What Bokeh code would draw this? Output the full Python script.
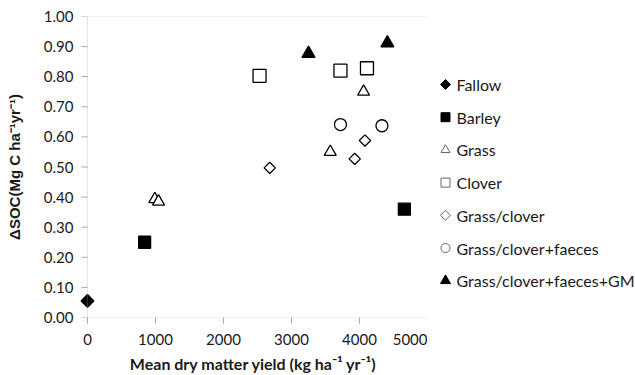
import math
from bokeh.plotting import figure
from bokeh.layouts import row
from bokeh.models import Range1d, FixedTicker, NumeralTickFormatter, BoxAnnotation
from bokeh.core.properties import value
from bokeh.embed import file_html
from bokeh.resources import INLINE

# ---- data ----
series_names = ["Fallow", "Barley", "Grass", "Clover", "Grass/clover",
                "Grass/clover+faeces", "Grass/clover+faeces+GM"]
fallow_x = [0]
fallow_y = [0.055]
barley_x = [840, 4660]
barley_y = [0.25, 0.36]
grass_x = [990, 1045, 3570, 4060]
grass_y = [0.393, 0.385, 0.55, 0.75]
clover_x = [2530, 3720, 4110]
clover_y = [0.803, 0.82, 0.828]
gc_x = [2680, 3930, 4080]
gc_y = [0.497, 0.527, 0.588]
gcf_x = [3720, 4330]
gcf_y = [0.641, 0.637]
gcfgm_x = [3250, 4410]
gcfgm_y = [0.877, 0.912]
x_ticks = [0, 1000, 2000, 3000, 4000, 5000]
y_ticks = [0.0, 0.1, 0.2, 0.3, 0.4, 0.5, 0.6, 0.7, 0.8, 0.9, 1.0]
x_min, x_max = 0, 5000
y_min, y_max = 0.0, 1.0

series_x = [fallow_x, barley_x, grass_x, clover_x, gc_x, gcf_x, gcfgm_x]
series_y = [fallow_y, barley_y, grass_y, clover_y, gc_y, gcf_y, gcfgm_y]
# style per series: marker, angle, filled, size, legend size
D45 = math.pi / 4
styles = [
    ("square", D45, True, 9, 7),
    ("square", 0, True, 12, 9),
    ("triangle", 0, False, 12, 9),
    ("square", 0, False, 13, 9),
    ("square", D45, False, 8, 7),
    ("circle", 0, False, 12, 9),
    ("triangle", 0, True, 13, 10),
]

AX = "#a6a6a6"
TXT = "#1a1a1a"
TICK_FONT = "Lato"

# a few pixels of room left of x=0 so the marker at x=0 is not clipped
PAD_PX = 8
FRAME_W = 340
px = (x_max - x_min) / FRAME_W          # data units per pixel (x)
x_pad = PAD_PX * px
TICK_OUT = 6

p = figure(width=427, height=375, output_backend="svg", toolbar_location=None,
           x_range=Range1d(x_min - x_pad, x_max), y_range=Range1d(y_min, y_max),
           min_border_left=87 - PAD_PX, min_border_right=0, min_border_top=16,
           min_border_bottom=58)
p.outline_line_color = None
p.grid.visible = False
p.background_fill_color = "white"
p.border_fill_color = "white"

# plot-area box from 0..5000 x 0..1 (its left edge is the y axis line)
p.add_layout(BoxAnnotation(left=x_min, right=x_max, bottom=y_min, top=y_max,
                           fill_alpha=0, line_color=AX, line_width=1))
# y tick marks, drawn just left of x=0
p.segment(x0=[x_min - TICK_OUT * px] * len(y_ticks), y0=y_ticks,
          x1=[x_min] * len(y_ticks), y1=y_ticks, line_color=AX, line_width=1)

for (xs, ys, (marker, ang, filled, size, _)) in zip(series_x, series_y, styles):
    p.scatter(xs, ys, marker=marker, angle=ang, size=size,
              fill_color="black" if filled else "white",
              line_color="black", line_width=1.3)

for ax in (p.xaxis[0], p.yaxis[0]):
    ax.major_tick_line_color = AX
    ax.minor_tick_line_color = None
    ax.major_tick_out = TICK_OUT
    ax.major_tick_in = 0
    ax.major_label_text_font = TICK_FONT
    ax.major_label_text_font_size = "15px"
    ax.major_label_text_color = TXT

p.xaxis.axis_line_color = None
p.xaxis.ticker = FixedTicker(ticks=x_ticks)
p.xaxis.formatter = NumeralTickFormatter(format="0")
p.xaxis.major_label_standoff = 10
p.xaxis.axis_label = "Mean dry matter yield (kg ha\u207b\u00b9 yr\u207b\u00b9)"
p.xaxis.axis_label_text_font = "Lato"
p.xaxis.axis_label_text_font_style = "bold"
p.xaxis.axis_label_text_font_size = "16px"
p.xaxis.axis_label_text_color = TXT
p.xaxis.axis_label_standoff = 6

p.yaxis.axis_line_color = None
p.yaxis.major_tick_line_color = None
p.yaxis.major_tick_out = 0
p.yaxis.ticker = FixedTicker(ticks=y_ticks)
p.yaxis.formatter = NumeralTickFormatter(format="0.00")
p.yaxis.major_label_standoff = 14 - PAD_PX
p.yaxis.axis_label = "\u0394SOC(Mg C ha\u207b\u00b9yr\u207b\u00b9)"
p.yaxis.axis_label_text_font = "Liberation Sans"
p.yaxis.axis_label_text_font_style = "bold"
p.yaxis.axis_label_text_font_size = "15px"
p.yaxis.axis_label_text_color = TXT
p.yaxis.axis_label_standoff = 18

# ---- legend panel (data units == screen pixels) ----
lg = figure(width=208, height=375, output_backend="svg", toolbar_location=None,
            x_range=Range1d(0, 208), y_range=Range1d(317, 16),
            min_border_left=0, min_border_right=0, min_border_top=16,
            min_border_bottom=58)
lg.axis.visible = False
lg.grid.visible = False
lg.outline_line_color = None
lg.border_fill_color = "white"

row_y0 = 84
row_step = 32.7
for i, (name, (marker, ang, filled, size, lsize)) in enumerate(zip(series_names, styles)):
    yy = row_y0 + row_step * i
    lg.scatter([18], [yy], marker=marker, angle=ang, size=lsize,
               fill_color="black" if filled else "white",
               line_color="black" if filled else "#666666", line_width=1)
    lg.text([29], [yy], text=[name], text_font=value("Lato"),
            text_font_size="16px", text_baseline="middle", text_align="left",
            text_color=TXT)

layout = row(p, lg)
open("out.html", "w").write(file_html(layout, INLINE))
